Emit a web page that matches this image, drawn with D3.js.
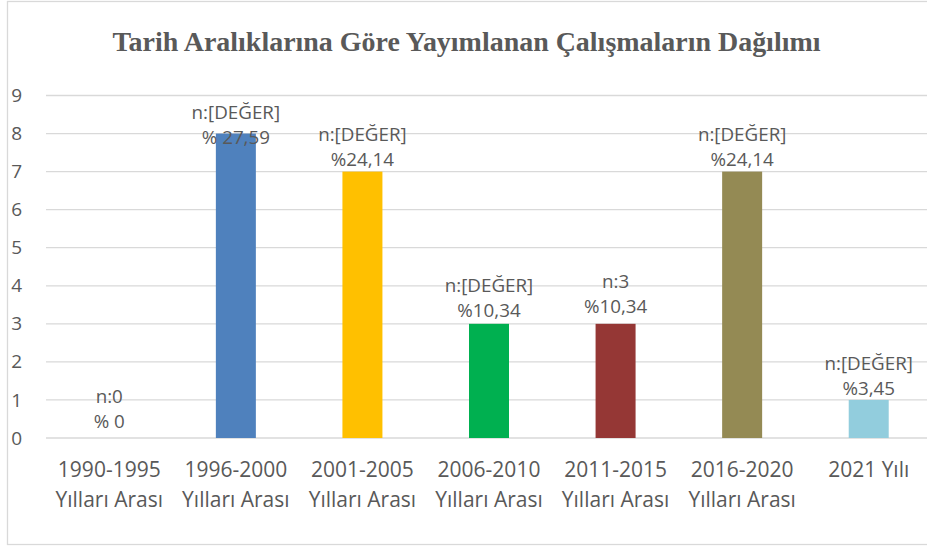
<!DOCTYPE html>
<html>
<head>
<meta charset="utf-8">
<script src="https://cdn.jsdelivr.net/npm/d3@7"></script>
<style>
  body { margin: 0; background: #fff; }
  #chart { width: 927px; height: 546px; }
</style>
</head>
<body>
<div id="chart"></div>
<script>
// chart values
const title = "Tarih Aralıklarına Göre Yayımlanan Çalışmaların Dağılımı";
const categories = ["1990-1995\nYılları Arası", "1996-2000\nYılları Arası", "2001-2005\nYılları Arası",
  "2006-2010\nYılları Arası", "2011-2015\nYılları Arası", "2016-2020\nYılları Arası", "2021 Yılı"];
const values = [0, 8, 7, 3, 3, 7, 1];
const nLabels = ["n:0", "n:[DEĞER]", "n:[DEĞER]", "n:[DEĞER]", "n:3", "n:[DEĞER]", "n:[DEĞER]"];
const pctLabels = ["% 0", "% 27,59", "%24,14", "%10,34", "%10,34", "%24,14", "%3,45"];
const yTicks = [0, 1, 2, 3, 4, 5, 6, 7, 8, 9];
const barColors = ["#4F81BD", "#4F81BD", "#FFC000", "#00B050", "#953735", "#948A54", "#92CDDD"];

// label lift above bar top (px), as placed in the original
const labelLift = [10, -10, 6, 7, 11, 6, 5];

const width = 927, height = 546;
const margin = { left: 46, right: -5, top: 95.5, bottom: 108 };
const textColor = "#595959", gridColor = "#D9D9D9";
const sans = "'Open Sans', sans-serif";

const svg = d3.select("#chart").append("svg")
  .attr("width", width).attr("height", height);

// outer chart border (runs off the right edge like the original)
svg.append("rect")
  .attr("x", 7.5).attr("y", 1.5)
  .attr("width", 960).attr("height", 543)
  .attr("fill", "none").attr("stroke", gridColor).attr("stroke-width", 1.3);

const x = d3.scaleBand()
  .domain(categories)
  .range([margin.left, width - margin.right])
  .paddingInner(0.684).paddingOuter(0.342);

const y = d3.scaleLinear()
  .domain([0, 9])
  .range([height - margin.bottom, margin.top]);

// grid lines
svg.append("g").selectAll("line").data(yTicks).enter()
  .append("line")
  .attr("x1", margin.left).attr("x2", width + 10)
  .attr("y1", d => y(d)).attr("y2", d => y(d))
  .attr("stroke", gridColor).attr("stroke-width", 1.3);

// y axis labels
const yAxis = d3.axisLeft(y).tickValues(yTicks).tickSize(0).tickPadding(0);
svg.append("g")
  .attr("transform", "translate(22,0)")
  .call(yAxis)
  .call(g => g.select(".domain").remove())
  .selectAll("text")
  .attr("fill", textColor)
  .style("font-family", sans).style("font-size", "19px");

// bars
svg.append("g").selectAll("rect").data(values).enter()
  .append("rect")
  .attr("x", (d, i) => x(categories[i]))
  .attr("width", x.bandwidth())
  .attr("y", d => y(d))
  .attr("height", d => y(0) - y(d))
  .attr("fill", (d, i) => barColors[i]);

// data labels
const labels = svg.append("g")
  .attr("text-anchor", "middle")
  .style("font-family", sans).style("font-size", "18.8px")
  .attr("fill", textColor);

values.forEach(function(v, i) {
  const cx = x(categories[i]) + x.bandwidth() / 2;
  const base = y(v) - labelLift[i];
  labels.append("text").attr("x", cx).attr("y", base - 25).text(nLabels[i]);
  labels.append("text").attr("x", cx).attr("y", base).text(pctLabels[i]);
});

// category labels
const xLab = svg.append("g")
  .attr("text-anchor", "middle")
  .style("font-family", sans).style("font-size", "21px")
  .attr("fill", textColor);

categories.forEach(function(c, i) {
  const t = xLab.append("text")
    .attr("x", x(c) + x.bandwidth() / 2)
    .attr("y", 477);
  c.split("\n").forEach(function(line, j) {
    t.append("tspan")
      .attr("x", x(c) + x.bandwidth() / 2)
      .attr("dy", j === 0 ? 0 : 29.5)
      .text(line);
  });
});

// title, sized to span the same width as the original
const titleText = svg.append("text")
  .attr("x", 466.5).attr("y", 51)
  .attr("text-anchor", "middle")
  .attr("fill", textColor)
  .style("font-family", "'Liberation Serif', serif")
  .style("font-weight", "bold")
  .style("font-size", "24px")
  .text(title);
const tw = titleText.node().getComputedTextLength();
titleText.style("font-size", (24 * 708 / tw).toFixed(2) + "px");
</script>
</body>
</html>
